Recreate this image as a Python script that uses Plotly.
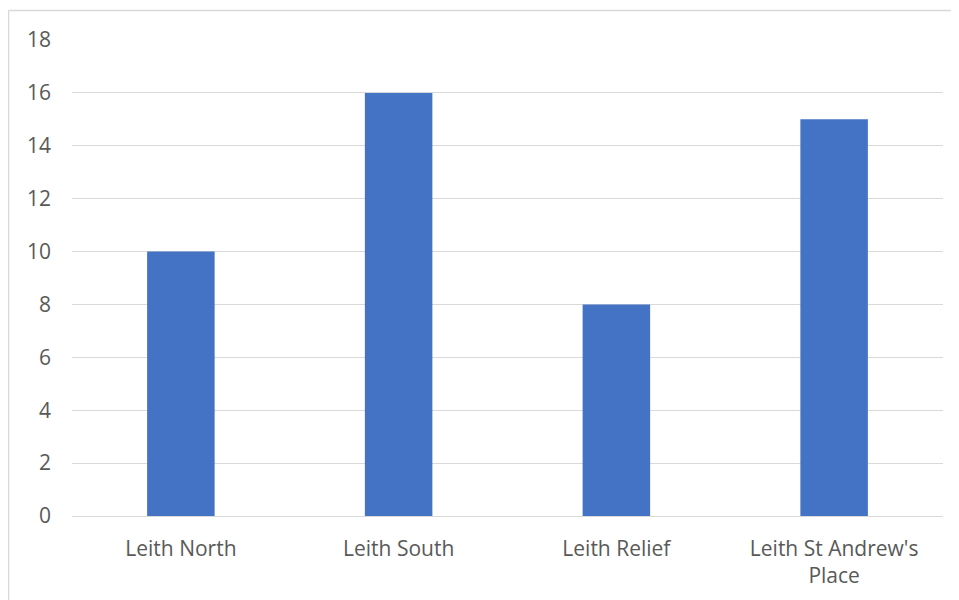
import plotly.graph_objects as go

categories = ["Leith North", "Leith South", "Leith Relief", "Leith St Andrew's<br>Place"]
values = [10, 16, 8, 15]
y_ticks = [0, 2, 4, 6, 8, 10, 12, 14, 16, 18]

# page body has an 8px margin, so the figure starts at (8, 8)
OFF = 8
W, H = 959 - OFF, 600 - OFF
L, R, T, B = 72 - OFF, 959 - 943, 40 - OFF, 600 - 516
pw, ph = W - L - R, H - T - B

fig = go.Figure(go.Bar(x=categories, y=values, marker=dict(color="#4472C4", line=dict(width=0)), width=0.31))

font = dict(family="Open Sans, Noto Sans, sans-serif", size=21, color="#595959")

fig.update_layout(
    width=W, height=H,
    margin=dict(l=L, r=R, t=T, b=B),
    plot_bgcolor="white", paper_bgcolor="white",
    showlegend=False,
    font=font,
    xaxis=dict(showgrid=False, showline=False, ticks="", tickfont=font, ticklabelstandoff=18, fixedrange=True),
    yaxis=dict(range=[0, 18], tickvals=y_ticks, showgrid=True, gridcolor="#D9D9D9", gridwidth=1,
               zeroline=True, zerolinecolor="#D9D9D9", zerolinewidth=1, showline=False, ticks="",
               tickfont=font, ticklabelstandoff=20),
)

# chart border (top and left edges visible)
x_left = (8.5 - OFF - L) / pw
y_top = (H - B - (10.5 - OFF)) / ph
fig.add_shape(type="line", xref="paper", yref="paper", x0=x_left, x1=(W + 5 - L) / pw, y0=y_top, y1=y_top,
              line=dict(color="#D9D9D9", width=1.5))
fig.add_shape(type="line", xref="paper", yref="paper", x0=x_left, x1=x_left, y0=y_top, y1=-(B + 10) / ph,
              line=dict(color="#D9D9D9", width=1.5))

fig.write_html("out.html")
